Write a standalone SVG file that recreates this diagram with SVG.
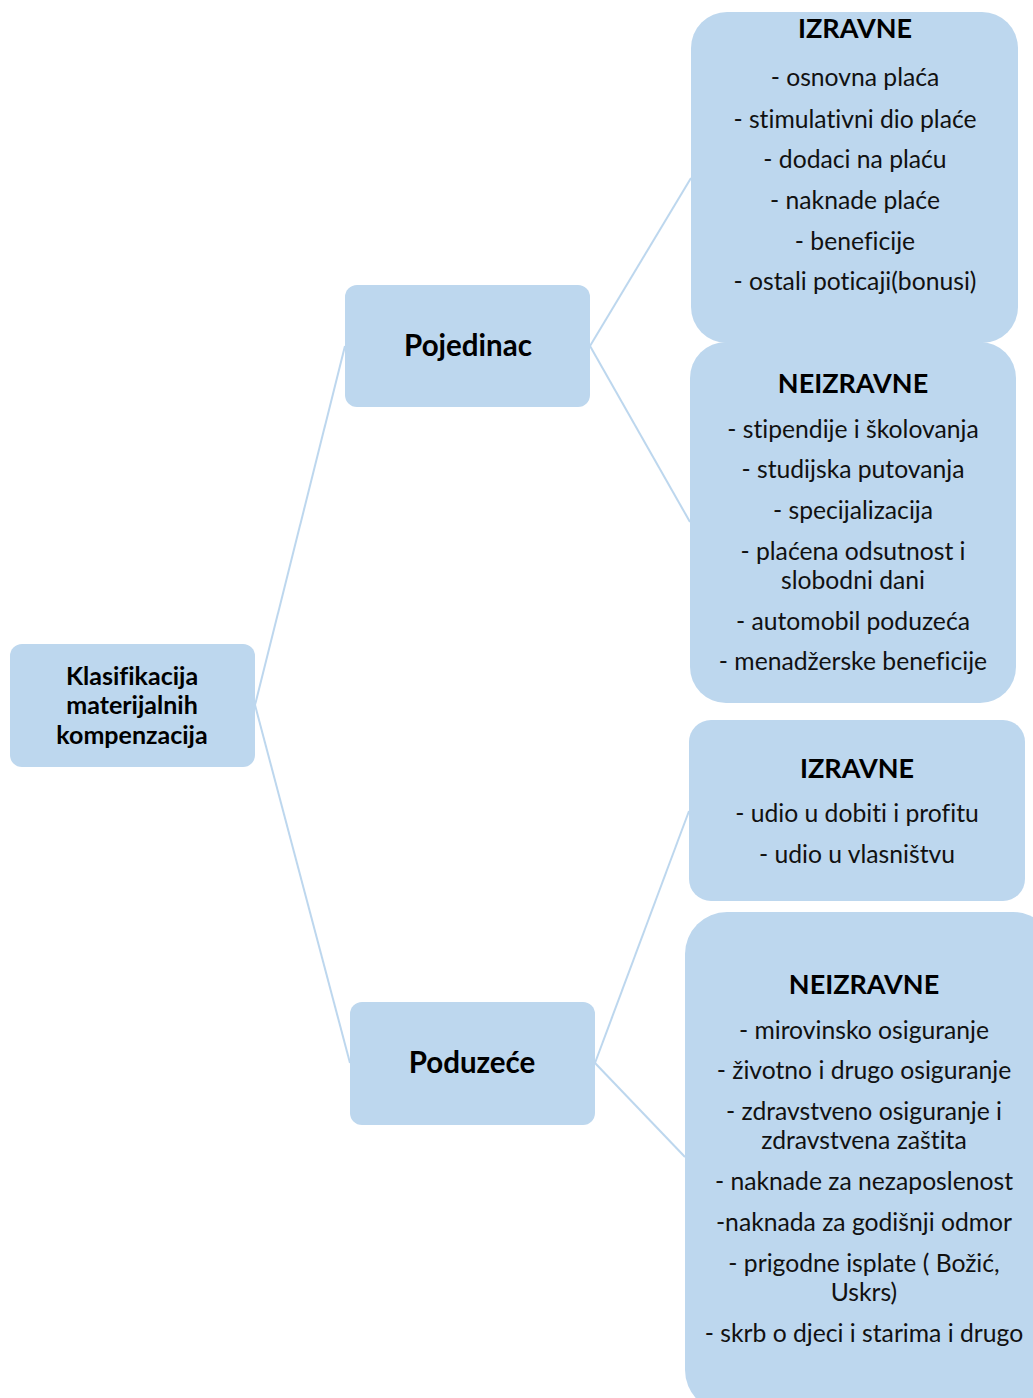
<svg xmlns="http://www.w3.org/2000/svg" width="1033" height="1398" viewBox="0 0 1033 1398">
<style>
.box{fill:#BDD7EE;}
text{font-family:Lato,"Open Sans","Liberation Sans",sans-serif;text-anchor:middle;font-variant-ligatures:none;}
.t{font-size:24.7px;fill:#111;}
.h{font-size:27px;font-weight:bold;fill:#000;}
.p{font-size:29.5px;font-weight:bold;fill:#000;}
.r{font-size:25px;font-weight:bold;fill:#000;}
.c{stroke:#BDD7EE;stroke-width:2;fill:none;}
</style>
<rect width="1033" height="1398" fill="#fff"/>
<g id="connectors">
<line class="c" x1="255" y1="705" x2="345" y2="346"/>
<line class="c" x1="255" y1="705" x2="350" y2="1063"/>
<line class="c" x1="590" y1="346" x2="691" y2="178"/>
<line class="c" x1="590" y1="346" x2="690" y2="522"/>
<line class="c" x1="595" y1="1063" x2="689" y2="811"/>
<line class="c" x1="595" y1="1063" x2="685" y2="1157"/>
</g>
<g id="root">
<rect class="box" x="10" y="644" width="245" height="123" rx="12"/>
<text class="r" x="132" y="685">Klasifikacija</text>
<text class="r" x="132" y="714">materijalnih</text>
<text class="r" x="132" y="744">kompenzacija</text>
</g>
<g id="pojedinac">
<rect class="box" x="345" y="285" width="245" height="122" rx="12"/>
<text class="p" x="468" y="356">Pojedinac</text>
</g>
<g id="poduzece">
<rect class="box" x="350" y="1002" width="245" height="123" rx="12"/>
<text class="p" x="472" y="1073">Poduzeće</text>
</g>
<g id="izravne1">
<rect class="box" x="691" y="12" width="327" height="331" rx="36"/>
<text class="h" x="855" y="38">IZRAVNE</text>
<text class="t" x="855" y="86">- osnovna plaća</text>
<text class="t" x="855" y="128">- stimulativni dio plaće</text>
<text class="t" x="855" y="168">- dodaci na plaću</text>
<text class="t" x="855" y="209">- naknade plaće</text>
<text class="t" x="855" y="250">- beneficije</text>
<text class="t" x="855" y="290">- ostali poticaji(bonusi)</text>
</g>
<g id="neizravne1">
<rect class="box" x="690" y="342" width="326" height="361" rx="36"/>
<text class="h" x="853" y="393">NEIZRAVNE</text>
<text class="t" x="853" y="438">- stipendije i školovanja</text>
<text class="t" x="853" y="478">- studijska putovanja</text>
<text class="t" x="853" y="519">- specijalizacija</text>
<text class="t" x="853" y="560">- plaćena odsutnost i</text>
<text class="t" x="853" y="589">slobodni dani</text>
<text class="t" x="853" y="630">- automobil poduzeća</text>
<text class="t" x="853" y="670">- menadžerske beneficije</text>
</g>
<g id="izravne2">
<rect class="box" x="689" y="720" width="336" height="181" rx="22"/>
<text class="h" x="857" y="778">IZRAVNE</text>
<text class="t" x="857" y="822">- udio u dobiti i profitu</text>
<text class="t" x="857" y="863">- udio u vlasništvu</text>
</g>
<g id="neizravne2">
<rect class="box" x="685" y="912" width="370" height="500" rx="42"/>
<text class="h" x="864" y="994">NEIZRAVNE</text>
<text class="t" x="864" y="1039">- mirovinsko osiguranje</text>
<text class="t" x="864" y="1079">- životno i drugo osiguranje</text>
<text class="t" x="864" y="1120">- zdravstveno osiguranje i</text>
<text class="t" x="864" y="1149">zdravstvena zaštita</text>
<text class="t" x="864" y="1190">- naknade za nezaposlenost</text>
<text class="t" x="864" y="1231">-naknada za godišnji odmor</text>
<text class="t" x="864" y="1272">- prigodne isplate ( Božić,</text>
<text class="t" x="864" y="1301">Uskrs)</text>
<text class="t" x="864" y="1342">- skrb o djeci i starima i drugo</text>
</g>
</svg>
